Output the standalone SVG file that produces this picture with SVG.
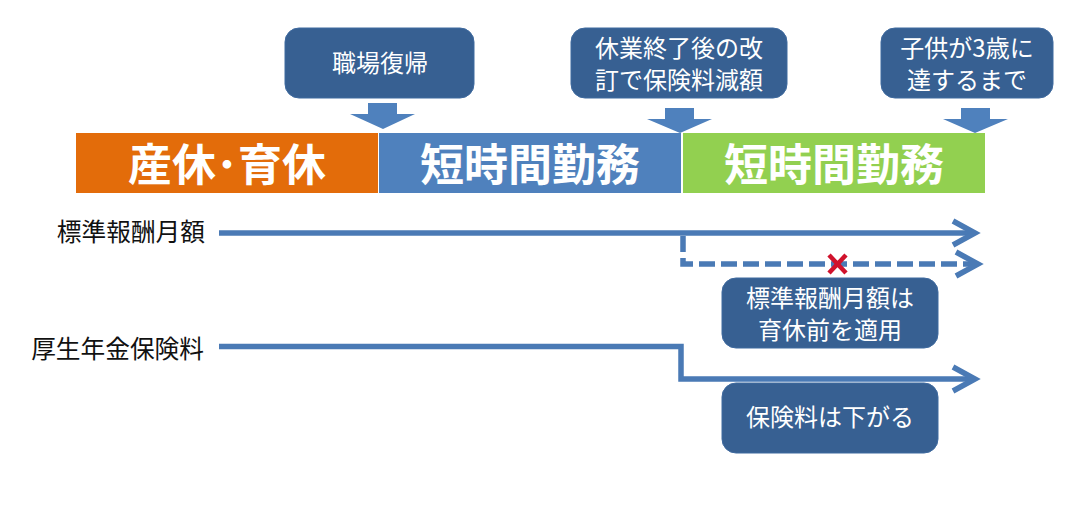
<svg xmlns="http://www.w3.org/2000/svg" width="1086" height="508" viewBox="0 0 1086 508">
<style>
text{font-family:"Noto Sans CJK JP","Liberation Sans",sans-serif;text-anchor:middle}
.box{fill:#376092;stroke:#3f6a9f;stroke-width:1}
.t{fill:#fff;font-size:24px;font-weight:400}
.b{fill:#fff;font-size:44px;font-weight:700}
.l{fill:#111;font-size:24.700px;text-anchor:end}
.dn{fill:#4f81bd}
.ln{fill:none;stroke:#4a7ab5;stroke-width:5.500}
</style>
<rect width="1086" height="508" fill="#fff"/>
<g id="connectors">
<path class="ln" d="M219 233H974"/>
<path class="ln" d="M953 221L975 233L953 245"/>
<path class="ln" d="M683 236V264H976" stroke-dasharray="16 6"/>
<path class="ln" d="M956 252L978 264L956 276"/>
<path class="ln" d="M219 346.500H681V379H974"/>
<path class="ln" d="M953 367L975 379L953 391"/>
</g>
<g id="phase1"><rect x="76" y="133" width="302" height="60" fill="#e36c0a"/><text class="b" x="227" y="181">産休･育休</text></g>
<g id="phase2"><rect x="379" y="133" width="302" height="60" fill="#4f81bd"/><text class="b" x="530" y="181">短時間勤務</text></g>
<g id="phase3"><rect x="683" y="133" width="302" height="60" fill="#92d050"/><text class="b" x="834" y="181">短時間勤務</text></g>
<g id="arrow1"><path class="dn" d="M368 103H397V114H415L383 129L350 114H368Z"/></g>
<g id="arrow2"><path class="dn" d="M665 108H694V119H712L680 133L647 119H665Z"/></g>
<g id="arrow3"><path class="dn" d="M961 108H990V119H1008L975 133L943 119H961Z"/></g>
<g id="box1"><rect class="box" x="285" y="28" width="189" height="70" rx="14"/><text class="t" x="380" y="72">職場復帰</text></g>
<g id="box2"><rect class="box" x="571" y="28" width="216" height="70" rx="14"/><text class="t" x="679" y="57">休業終了後の改</text><text class="t" x="679" y="89">訂で保険料減額</text></g>
<g id="box3"><rect class="box" x="881" y="28" width="172" height="70" rx="14"/><text class="t" x="967" y="57">子供が3歳に</text><text class="t" x="967" y="89">達するまで</text></g>
<g id="box4"><rect class="box" x="722" y="278" width="216" height="70" rx="14"/><text class="t" x="830" y="307">標準報酬月額は</text><text class="t" x="830" y="339">育休前を適用</text></g>
<g id="box5"><rect class="box" x="722" y="383" width="216" height="70" rx="14"/><text class="t" x="830" y="426">保険料は下がる</text></g>
<g id="cross"><path d="M829 255L846 273M846 255L829 273" fill="none" stroke="#d0122c" stroke-width="4.500"/></g>
<g id="label1"><text class="l" x="205" y="241">標準報酬月額</text></g>
<g id="label2"><text class="l" x="204" y="358">厚生年金保険料</text></g>
</svg>
